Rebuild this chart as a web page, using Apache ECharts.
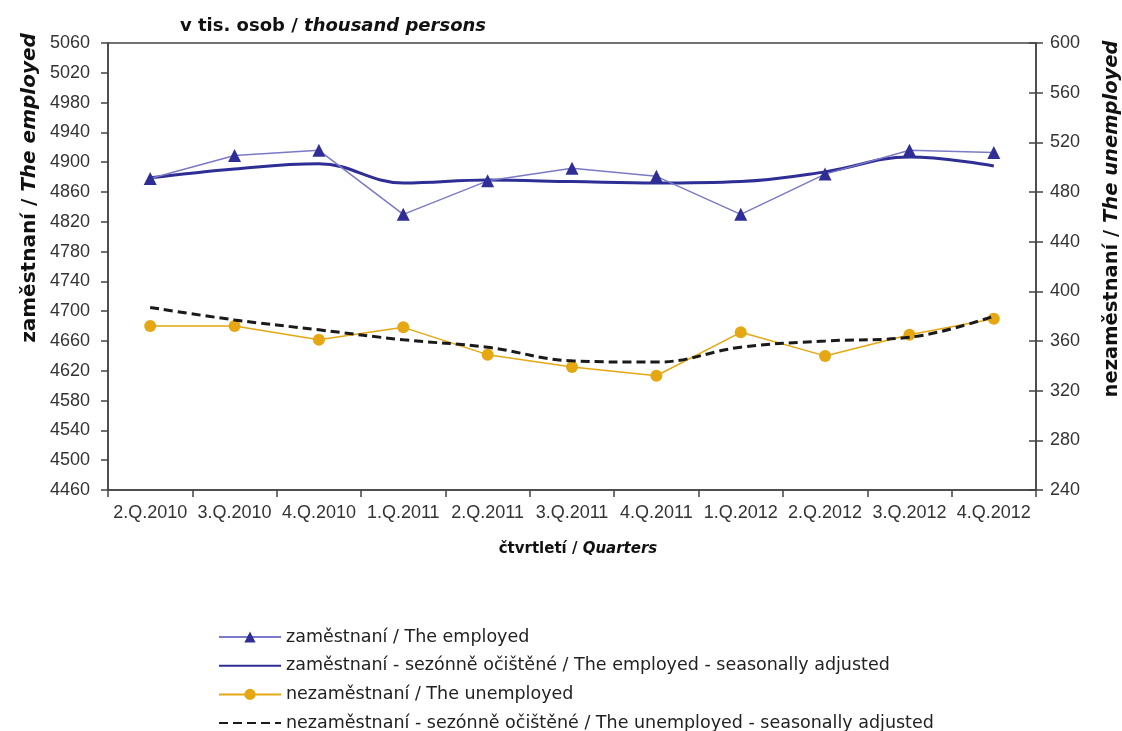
<!DOCTYPE html>
<html><head><meta charset="utf-8">
<script src="https://cdn.jsdelivr.net/npm/echarts@6/dist/echarts.min.js"></script>
<style>html,body{margin:0;padding:0;background:#fff}#c{width:1122px;height:731px}</style>
</head><body><div id="c"></div>
<script>
const categories = ['2.Q.2010','3.Q.2010','4.Q.2010','1.Q.2011','2.Q.2011','3.Q.2011','4.Q.2011','1.Q.2012','2.Q.2012','3.Q.2012','4.Q.2012'];
const employed = [4878, 4909, 4916, 4830, 4875, 4892, 4881, 4830, 4884, 4916, 4913];
const employedSA = [4879, 4891, 4898, 4872, 4876, 4874, 4872, 4874, 4887, 4907, 4895];
const unemployed = [372, 372, 361, 371, 349, 339, 332, 367, 348, 365, 378];
const unemployedSA = [387, 377, 369, 361, 355, 344, 343, 355, 360, 363, 380];
const leftTicks = {min: 4460, max: 5060, interval: 40};
const rightTicks = {min: 240, max: 600, interval: 40};
const names = ['zaměstnaní / The employed', 'zaměstnaní - sezónně očištěné / The employed - seasonally adjusted', 'nezaměstnaní / The unemployed', 'nezaměstnaní - sezónně očištěné / The unemployed - seasonally adjusted'];

const F = 'Liberation Sans, Arial, sans-serif';
const FB = 'DejaVu Sans, Liberation Sans, sans-serif';
const AX = '#444';
const chart = echarts.init(document.getElementById('c'));
chart.setOption({
  animation: false,
  backgroundColor: '#fff',
  textStyle: {fontFamily: F},
  title: {
    text: '{a|v tis. osob / }{b|thousand persons}',
    left: 180, top: 17, padding: 0,
    textStyle: {rich: {
      a: {fontFamily: FB, fontSize: 18, fontWeight: 'bold', color: '#111'},
      b: {fontFamily: FB, fontSize: 18, fontWeight: 'bold', fontStyle: 'italic', color: '#111'}
    }}
  },
  grid: {left: 108, right: 86, top: 43, bottom: 241, show: true, borderColor: AX, borderWidth: 1.5, backgroundColor: 'transparent'},
  legend: {
    orient: 'vertical', left: 218, top: 628, height: 140, padding: 0,
    itemWidth: 62, itemHeight: 14, itemGap: 10.7,
    textStyle: {fontFamily: 'DejaVu Sans, sans-serif', fontSize: 17.5, lineHeight: 18, color: '#222'},
    data: [
      {name: names[0]},
      {name: names[1], itemStyle: {opacity: 0}},
      {name: names[2]},
      {name: names[3], itemStyle: {opacity: 0}}
    ]
  },
  xAxis: {
    type: 'category', data: categories, boundaryGap: true,
    axisLine: {lineStyle: {color: AX, width: 1.5}},
    axisTick: {show: true, length: 7, lineStyle: {color: AX, width: 1.5}},
    axisLabel: {fontFamily: F, fontSize: 18, color: '#333', margin: 14, interval: 0},
    name: '{a|čtvrtletí / }{b|Quarters}', nameLocation: 'middle', nameGap: 52,
    nameTextStyle: {padding: [0, 0, 0, 12], rich: {
      a: {fontFamily: FB, fontSize: 15, fontWeight: 'bold', color: '#111'},
      b: {fontFamily: FB, fontSize: 15, fontWeight: 'bold', fontStyle: 'italic', color: '#111'}
    }},
    splitLine: {show: false}
  },
  yAxis: [{
    type: 'value', min: leftTicks.min, max: leftTicks.max, interval: leftTicks.interval, position: 'left',
    axisLine: {show: true, lineStyle: {color: AX, width: 1.5}},
    axisTick: {show: true, length: 7, lineStyle: {color: AX, width: 1.5}},
    axisLabel: {fontFamily: F, fontSize: 18, color: '#333', margin: 18, formatter: v => String(v)},
    splitLine: {show: false}
  }, {
    type: 'value', min: rightTicks.min, max: rightTicks.max, interval: rightTicks.interval, position: 'right',
    axisLine: {show: true, lineStyle: {color: AX, width: 1.5}},
    axisTick: {show: true, length: 7, lineStyle: {color: AX, width: 1.5}},
    axisLabel: {fontFamily: F, fontSize: 18, color: '#333', margin: 14, formatter: v => String(v)},
    splitLine: {show: false}
  }, {
    type: 'value', min: rightTicks.min, max: rightTicks.max, interval: rightTicks.interval, position: 'right',
    axisLine: {show: false},
    axisTick: {show: true, inside: true, length: 7, lineStyle: {color: AX, width: 1.5}},
    axisLabel: {show: false},
    splitLine: {show: false}
  }],
  graphic: [{
    type: 'text', x: 30, y: 188, rotation: Math.PI / 2,
    style: {text: '{a|zaměstnaní / }{b|The employed}', align: 'center', verticalAlign: 'middle',
      rich: {a: {fontFamily: FB, fontSize: 20, fontWeight: 'bold', fill: '#111'},
             b: {fontFamily: FB, fontSize: 20, fontWeight: 'bold', fontStyle: 'italic', fill: '#111'}}}
  }, {
    type: 'text', x: 1112, y: 219, rotation: Math.PI / 2,
    style: {text: '{a|nezaměstnaní / }{b|The unemployed}', align: 'center', verticalAlign: 'middle',
      rich: {a: {fontFamily: FB, fontSize: 19.5, fontWeight: 'bold', fill: '#111'},
             b: {fontFamily: FB, fontSize: 19.5, fontWeight: 'bold', fontStyle: 'italic', fill: '#111'}}}
  }],
  series: [{
    name: names[0], type: 'line', yAxisIndex: 0, data: employed,
    symbol: 'triangle', symbolSize: 13,
    lineStyle: {color: '#7a7ac6', width: 1.5},
    itemStyle: {color: '#2e2e96'}, z: 3
  }, {
    name: names[1], type: 'line', yAxisIndex: 0, data: employedSA,
    smooth: 0.4, showSymbol: false, symbol: 'none',
    lineStyle: {color: '#2e2e96', width: 3},
    itemStyle: {color: '#2e2e96'}, z: 2
  }, {
    name: names[2], type: 'line', yAxisIndex: 1, data: unemployed,
    symbol: 'circle', symbolSize: 12,
    lineStyle: {color: '#e5a712', width: 1.5},
    itemStyle: {color: '#e5a712'}, z: 3
  }, {
    name: names[3], type: 'line', yAxisIndex: 1, data: unemployedSA,
    smooth: 0.4, showSymbol: false, symbol: 'none',
    lineStyle: {color: '#1a1a1a', width: 3, type: [9, 5]},
    itemStyle: {color: '#1a1a1a'}, z: 4
  }]
});
</script></body></html>
